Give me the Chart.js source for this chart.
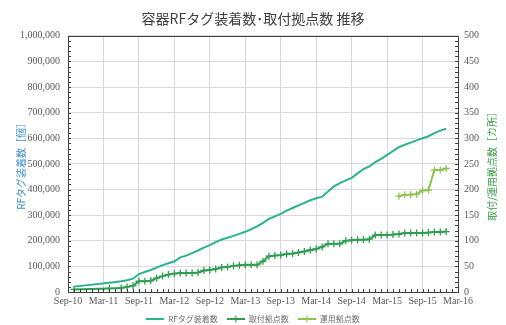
<!DOCTYPE html>
<html>
<head>
<meta charset="utf-8">
<script src="https://cdn.jsdelivr.net/npm/chart.js@4.4.0/dist/chart.umd.min.js"></script>
<style>
  html, body { margin: 0; padding: 0; background: #fff; }
  #wrap { width: 506px; height: 325px; }
</style>
</head>
<body>
<div id="wrap"><canvas id="chart"></canvas></div>
<script>
// tick labels for the month axis (every 6 months, starting Sep-10)
const xTickLabels = ['Sep-10', 'Mar-11', 'Sep-11', 'Mar-12', 'Sep-12', 'Mar-13',
  'Sep-13', 'Mar-14', 'Sep-14', 'Mar-15', 'Sep-15', 'Mar-16'];

// months counted from Sep-10
const months = [1, 7, 9, 10, 11, 12, 13, 14, 15, 16, 17, 18, 19, 20, 21, 22, 23, 24, 25,
  26, 27, 28, 29, 30, 31, 32, 33, 34, 35, 36, 37, 38, 39, 40, 41, 42, 43, 44, 45,
  46, 47, 48, 49, 50, 51, 52, 53, 54, 55, 56, 57, 58, 59, 60, 61, 62, 63, 64];

// RFタグ装着数 (left axis)
const rfTags = [21000, 36000, 42000, 46000, 52000, 70000, 78000, 86000, 95000, 105000,
  112000, 120000, 135000, 142000, 152000, 162000, 173000, 183000, 195000, 205000,
  212000, 219000, 227000, 235000, 245000, 256000, 270000, 285000, 295000, 305000,
  318000, 328000, 338000, 348000, 358000, 366000, 372000, 392000, 412000, 425000,
  436000, 445000, 463000, 480000, 490000, 507000, 520000, 535000, 550000, 565000,
  575000, 583000, 592000, 600000, 608000, 620000, 630000, 637000];

// 取付拠点数 (right axis)
const sites = [5, 7, 8, 10, 12, 21, 21, 22, 27, 31, 34, 36, 37, 37, 37, 38, 42, 43, 45,
  48, 49, 51, 52, 53, 53, 53, 60, 70, 71, 72, 74, 75, 77, 79, 82, 84, 88, 94, 94,
  94, 100, 101, 102, 102, 103, 111, 111, 111, 112, 113, 115, 115, 115, 115, 116,
  117, 117, 118];

// 運用拠点数 (right axis)
const opSites = [null, null, null, null, null, null, null, null, null, null, null, null,
  null, null, null, null, null, null, null, null, null, null, null, null, null, null,
  null, null, null, null, null, null, null, null, null, null, null, null, null, null,
  null, null, null, null, null, null, null, null, null,
  187, 190, 190, 191, 198, 199, 238, 238, 241];

const leftTitle = 'RFタグ装着数［個］';
const rightTitle = '取付/運用拠点数［カ所］';

const toPoints = (vals) => months.map((m, i) => ({ x: m, y: vals[i] }));

// small legend sample: line with optional cross
function legendIcon(color, cross) {
  const c = document.createElement('canvas');
  c.width = 18; c.height = 8;
  const g = c.getContext('2d');
  g.strokeStyle = color;
  g.lineWidth = 2;
  g.beginPath(); g.moveTo(0, 4); g.lineTo(18, 4); g.stroke();
  if (cross) {
    g.lineWidth = 1.2;
    g.beginPath(); g.moveTo(9, 0.5); g.lineTo(9, 7.5); g.stroke();
  }
  return c;
}

// frame, inner minor ticks and right-hand title
const framePlugin = {
  id: 'framePlugin',
  afterDraw(chart) {
    const { ctx, chartArea: a, scales } = chart;
    ctx.save();
    ctx.strokeStyle = '#404040';
    ctx.lineWidth = 1;
    ctx.strokeRect(Math.round(a.left) + 0.5, Math.round(a.top) + 0.5,
      Math.round(a.right - a.left), Math.round(a.bottom - a.top));
    ctx.beginPath();
    for (let m = 0; m <= 66; m++) {
      const px = Math.round(scales.x.getPixelForValue(m)) + 0.5;
      ctx.moveTo(px, a.bottom); ctx.lineTo(px, a.bottom - 3);
    }
    for (let v = 0; v <= 1000000; v += 20000) {
      const py = Math.round(scales.y.getPixelForValue(v)) + 0.5;
      ctx.moveTo(a.left, py); ctx.lineTo(a.left + 3, py);
    }
    for (let v = 0; v <= 500; v += 10) {
      const py = Math.round(scales.y1.getPixelForValue(v)) + 0.5;
      ctx.moveTo(a.right, py); ctx.lineTo(a.right - 3, py);
    }
    ctx.stroke();

    ctx.translate(492, (a.top + a.bottom) / 2);
    ctx.rotate(-Math.PI / 2);
    ctx.fillStyle = '#3A9E48';
    ctx.font = '10px "Noto Sans CJK JP"';
    ctx.textAlign = 'center';
    ctx.textBaseline = 'middle';
    ctx.fillText(rightTitle, 0, 0);
    ctx.restore();
  }
};

const tickFont = { family: '"Liberation Serif"', size: 10 };

new Chart(document.getElementById('chart'), {
  type: 'line',
  data: {
    datasets: [
      {
        label: 'RFタグ装着数',
        data: toPoints(rfTags),
        yAxisID: 'y',
        borderColor: '#2BB38C',
        backgroundColor: '#2BB38C',
        borderWidth: 2,
        pointRadius: 0,
        tension: 0,
        legendIcon: legendIcon('#2BB38C', false)
      },
      {
        label: '取付拠点数',
        data: toPoints(sites),
        yAxisID: 'y1',
        borderColor: '#2E9D52',
        backgroundColor: '#2E9D52',
        borderWidth: 2,
        pointStyle: 'cross',
        pointRadius: 3.5,
        pointBorderWidth: 1.3,
        tension: 0,
        legendIcon: legendIcon('#2E9D52', true)
      },
      {
        label: '運用拠点数',
        data: toPoints(opSites),
        yAxisID: 'y1',
        borderColor: '#8CC452',
        backgroundColor: '#8CC452',
        borderWidth: 2,
        pointStyle: 'cross',
        pointRadius: 3.5,
        pointBorderWidth: 1.3,
        tension: 0,
        legendIcon: legendIcon('#8CC452', true)
      }
    ]
  },
  options: {
    responsive: true,
    maintainAspectRatio: false,
    animation: false,
    layout: { padding: 0 },
    plugins: {
      title: {
        display: true,
        text: '容器RFタグ装着数･取付拠点数 推移',
        color: '#404040',
        font: { family: '"Noto Sans CJK JP"', size: 14, weight: 'normal' },
        padding: { top: 10, bottom: 9 }
      },
      legend: {
        position: 'bottom',
        maxHeight: 19,
        labels: {
          usePointStyle: true,
          pointStyleWidth: 18,
          padding: 9,
          color: '#6b6b6b',
          font: { family: '"Noto Sans CJK JP"', size: 8 },
          generateLabels(chart) {
            return chart.data.datasets.map((ds, i) => ({
              text: ds.label,
              pointStyle: ds.legendIcon,
              fillStyle: ds.borderColor,
              strokeStyle: ds.borderColor,
              lineWidth: 0,
              fontColor: '#6b6b6b',
              datasetIndex: i
            }));
          }
        }
      },
      tooltip: { enabled: false }
    },
    scales: {
      x: {
        type: 'linear',
        min: 0,
        max: 66,
        afterFit: (s) => { s.height = 14; },
        grid: { color: '#d9d9d9', drawTicks: false },
        border: { display: false },
        ticks: {
          stepSize: 6,
          autoSkip: false,
          maxRotation: 0,
          padding: 3,
          color: '#595959',
          font: tickFont,
          callback: (v) => xTickLabels[v / 6]
        }
      },
      y: {
        position: 'left',
        min: 0,
        max: 1000000,
        afterFit: (s) => { s.width = 68; },
        grid: { color: '#d9d9d9', drawTicks: false },
        border: { display: false },
        ticks: {
          stepSize: 100000,
          padding: 8,
          color: '#595959',
          font: tickFont,
          callback: (v) => v.toLocaleString('en-US')
        },
        title: {
          display: true,
          text: leftTitle,
          color: '#3C8FCF',
          font: { family: '"Noto Sans CJK JP"', size: 10 },
          padding: { top: 15, bottom: 0 }
        }
      },
      y1: {
        position: 'right',
        min: 0,
        max: 500,
        afterFit: (s) => { s.width = 48; },
        grid: { drawOnChartArea: false, drawTicks: false },
        border: { display: false },
        ticks: {
          stepSize: 50,
          padding: 6,
          color: '#595959',
          font: tickFont
        }
      }
    }
  },
  plugins: [framePlugin]
});
</script>
</body>
</html>
